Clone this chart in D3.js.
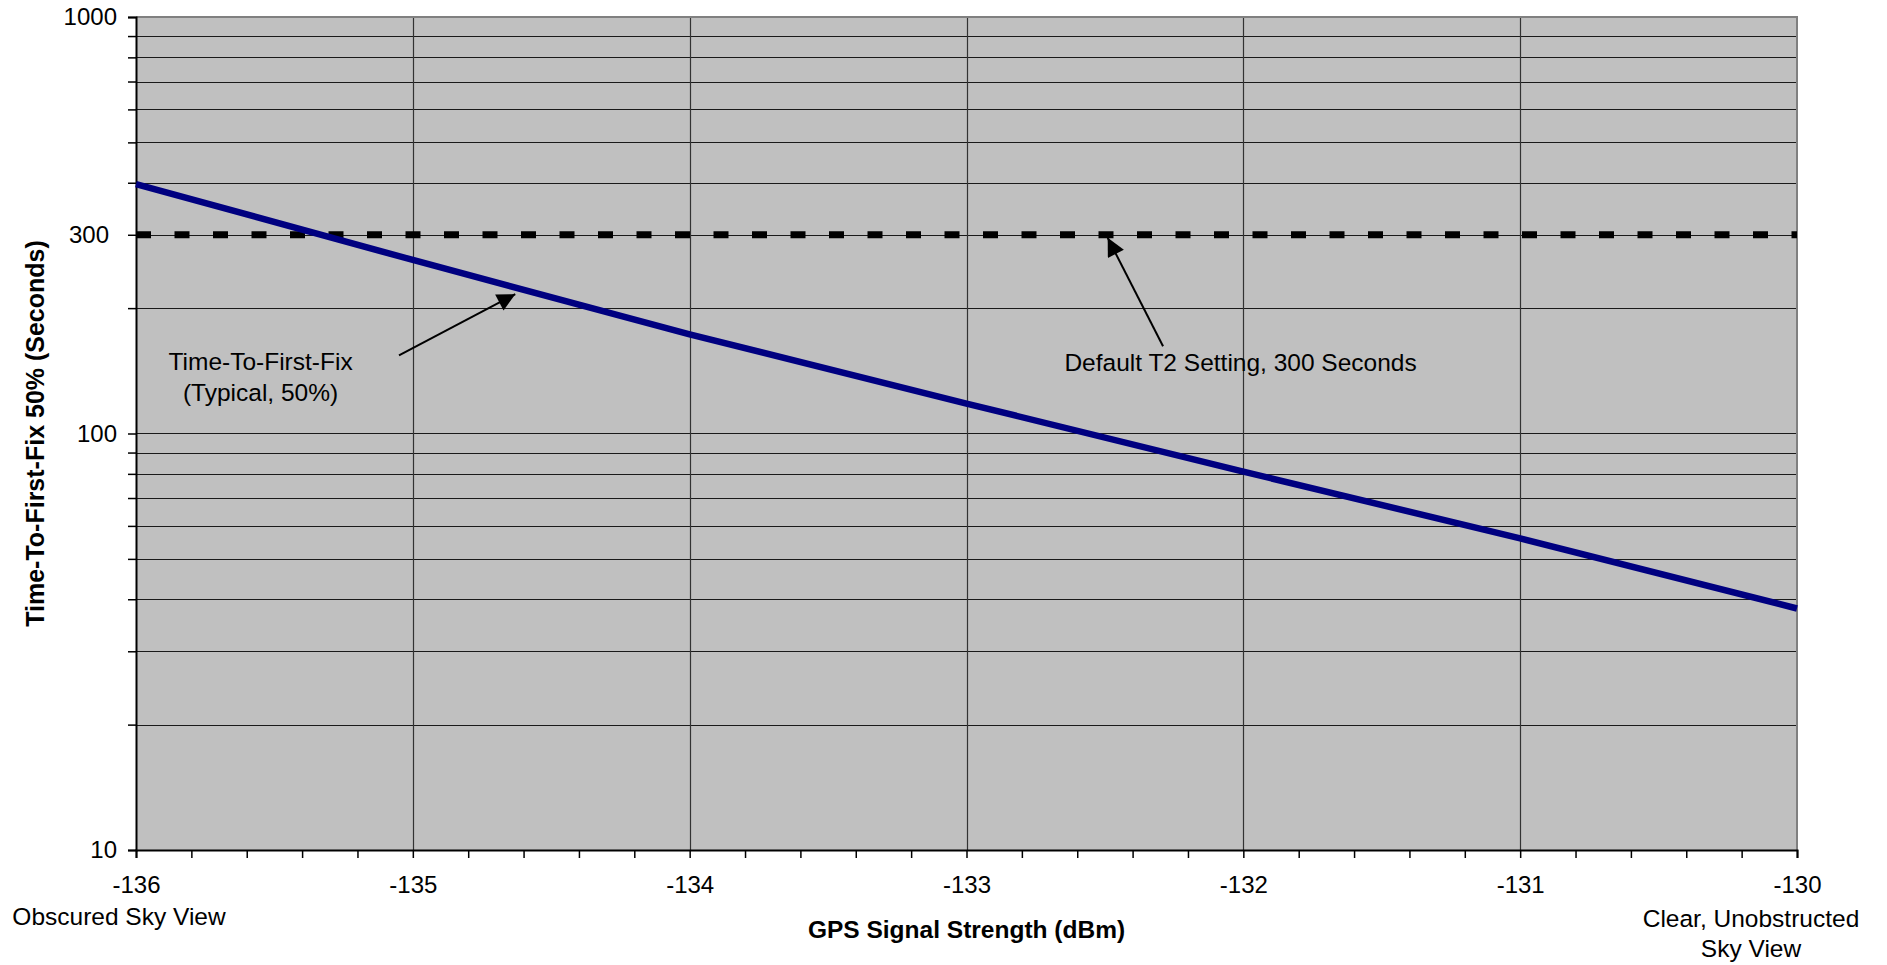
<!DOCTYPE html>
<html>
<head>
<meta charset="utf-8">
<script src="https://cdn.jsdelivr.net/npm/d3@7"></script>
<style>
  body { margin: 0; background: #fff; }
  text { font-family: "Liberation Sans", Arial, sans-serif; fill: #000; }
</style>
</head>
<body>
<div id="chart"></div>
<script>
// data
var signal = [-136, -135, -134, -133, -132, -131, -130];
var ttff = [397, 261, 173, 118, 81, 56, 38];
var t2Setting = 300;

var xTicks = [-136, -135, -134, -133, -132, -131, -130];
var yTickLabels = [10, 100, 300, 1000];
var yGrid = [20, 30, 40, 50, 60, 70, 80, 90, 100, 200, 300, 400, 500, 600, 700, 800, 900];

var chart = {
    w: 1887,
    h: 965,
    margin: { top: 17, right: 90, bottom: 115, left: 136 },
    font: 24.5
};

var svg = d3.select("#chart").append("svg")
    .attr("width", chart.w)
    .attr("height", chart.h);

var x = d3.scaleLinear()
    .domain([-136, -130])
    .range([chart.margin.left, chart.w - chart.margin.right]);

var y = d3.scaleLog()
    .domain([10, 1000])
    .range([chart.h - chart.margin.bottom, chart.margin.top]);

// plot background
svg.append("rect")
    .attr("x", x(-136))
    .attr("y", y(1000))
    .attr("width", x(-130) - x(-136))
    .attr("height", y(10) - y(1000))
    .attr("fill", "#c0c0c0");

// grid lines
svg.append("g").selectAll("line")
    .data(yGrid)
    .enter().append("line")
    .attr("x1", x(-136)).attr("x2", x(-130))
    .attr("y1", function (d) { return Math.round(y(d)) + 0.5; })
    .attr("y2", function (d) { return Math.round(y(d)) + 0.5; })
    .attr("stroke", "#1a1a1a")
    .attr("stroke-width", 1.2);

svg.append("g").selectAll("line")
    .data(xTicks.slice(1, -1))
    .enter().append("line")
    .attr("x1", function (d) { return Math.round(x(d)) + 0.5; })
    .attr("x2", function (d) { return Math.round(x(d)) + 0.5; })
    .attr("y1", y(1000)).attr("y2", y(10))
    .attr("stroke", "#333")
    .attr("stroke-width", 1.2);

// border: top and right grey
svg.append("path")
    .attr("d", "M" + x(-136) + "," + y(1000) + "H" + x(-130) + "V" + y(10))
    .attr("fill", "none")
    .attr("stroke", "#808080")
    .attr("stroke-width", 2);

// y axis
var yAxis = d3.axisLeft(y)
    .tickValues([10].concat(yGrid).concat([1000]))
    .tickSize(8)
    .tickPadding(11)
    .tickFormat(function (d) { return yTickLabels.indexOf(d) >= 0 ? d : ""; });

var gy = svg.append("g")
    .attr("transform", "translate(" + x(-136) + ",0)")
    .call(yAxis);
gy.select(".domain").attr("stroke", "#000").attr("stroke-width", 2);
gy.selectAll(".tick line").attr("stroke", "#000").attr("stroke-width", 1.5);
gy.selectAll(".tick text")
    .attr("font-size", 24)
    .attr("font-family", "Liberation Sans, Arial, sans-serif")
    .attr("x", function (d) { return d == 300 ? -27 : -19; });

// x axis
var minorX = d3.range(0, 31).map(function (i) { return -136 + i * 0.2; });
var xAxis = d3.axisBottom(x)
    .tickValues(minorX)
    .tickSize(8)
    .tickPadding(18)
    .tickFormat(function (d) {
        var r = Math.round(d);
        return Math.abs(d - r) < 1e-6 ? r : "";
    });

var gx = svg.append("g")
    .attr("transform", "translate(0," + y(10) + ")")
    .call(xAxis);
gx.select(".domain").attr("stroke", "#000").attr("stroke-width", 2);
gx.selectAll(".tick line").attr("stroke", "#000").attr("stroke-width", 1.5);
gx.selectAll(".tick text")
    .attr("font-size", 24)
    .attr("font-family", "Liberation Sans, Arial, sans-serif");

// 300 s reference line
svg.append("line")
    .attr("x1", x(-136)).attr("x2", x(-130))
    .attr("y1", y(t2Setting)).attr("y2", y(t2Setting))
    .attr("stroke", "#000")
    .attr("stroke-width", 7)
    .attr("stroke-dasharray", "15,23.5");

// TTFF curve
var line = d3.line()
    .x(function (d, i) { return x(signal[i]); })
    .y(function (d) { return y(d); });

svg.append("path")
    .datum(ttff)
    .attr("d", line)
    .attr("fill", "none")
    .attr("stroke", "#000080")
    .attr("stroke-width", 6.5);

// annotations with arrows
svg.append("defs").append("marker")
    .attr("id", "head")
    .attr("viewBox", "0 0 10 10")
    .attr("refX", 10).attr("refY", 5)
    .attr("markerWidth", 23).attr("markerHeight", 18)
    .attr("markerUnits", "userSpaceOnUse")
    .attr("orient", "auto")
    .append("path")
    .attr("d", "M0,0L10,5L0,10Z")
    .attr("fill", "#000");

var arrows = [
    { from: [-135.05, 154], to: [-134.63, 216] },
    { from: [-132.29, 162], to: [-132.49, 295] }
];

svg.append("g").selectAll("line")
    .data(arrows)
    .enter().append("line")
    .attr("x1", function (d) { return x(d.from[0]); })
    .attr("y1", function (d) { return y(d.from[1]); })
    .attr("x2", function (d) { return x(d.to[0]); })
    .attr("y2", function (d) { return y(d.to[1]); })
    .attr("stroke", "#000")
    .attr("stroke-width", 2)
    .attr("marker-end", "url(#head)");

var note1 = svg.append("text")
    .attr("x", x(-135.55))
    .attr("y", y(142))
    .attr("text-anchor", "middle")
    .attr("font-size", chart.font);
note1.append("tspan").attr("x", x(-135.55)).text("Time-To-First-Fix");
note1.append("tspan").attr("x", x(-135.55)).attr("dy", 31).text("(Typical, 50%)");

svg.append("text")
    .attr("x", x(-132.01))
    .attr("y", y(141))
    .attr("text-anchor", "middle")
    .attr("font-size", chart.font)
    .text("Default T2 Setting, 300 Seconds");

// axis titles
svg.append("text")
    .attr("x", (x(-136) + x(-130)) / 2)
    .attr("y", 938)
    .attr("text-anchor", "middle")
    .attr("font-size", chart.font)
    .attr("font-weight", "bold")
    .text("GPS Signal Strength (dBm)");

svg.append("text")
    .attr("transform", "translate(44," + (y(10) + y(1000)) / 2 + ") rotate(-90)")
    .attr("text-anchor", "middle")
    .attr("font-size", 25)
    .attr("font-weight", "bold")
    .text("Time-To-First-Fix 50% (Seconds)");

// end labels under the x axis
svg.append("text")
    .attr("x", 119)
    .attr("y", 925)
    .attr("text-anchor", "middle")
    .attr("font-size", chart.font)
    .text("Obscured Sky View");

var endNote = svg.append("text")
    .attr("x", 1751)
    .attr("y", 927)
    .attr("text-anchor", "middle")
    .attr("font-size", chart.font);
endNote.append("tspan").attr("x", 1751).text("Clear, Unobstructed");
endNote.append("tspan").attr("x", 1751).attr("dy", 30).text("Sky View");
</script>
</body>
</html>
